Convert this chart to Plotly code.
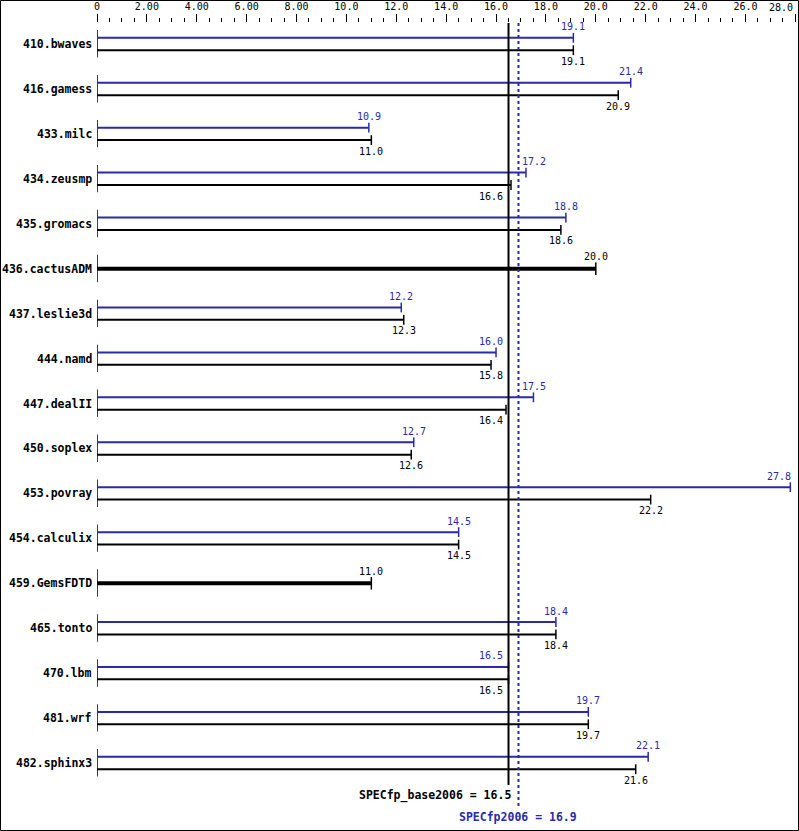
import plotly.graph_objects as go

benchmarks = ["410.bwaves", "416.gamess", "433.milc", "434.zeusmp", "435.gromacs",
              "436.cactusADM", "437.leslie3d", "444.namd", "447.dealII", "450.soplex",
              "453.povray", "454.calculix", "459.GemsFDTD", "465.tonto", "470.lbm",
              "481.wrf", "482.sphinx3"]
peak = [19.1, 21.4, 10.9, 17.2, 18.8, None, 12.2, 16.0, 17.5, 12.7,
        27.8, 14.5, None, 18.4, 16.5, 19.7, 22.1]
base = [19.1, 20.9, 11.0, 16.6, 18.6, 20.0, 12.3, 15.8, 16.4, 12.6,
        22.2, 14.5, 11.0, 18.4, 16.5, 19.7, 21.6]
base_score = 16.5
peak_score = 16.9
tick_vals = [0, 2, 4, 6, 8, 10, 12, 14, 16, 18, 20, 22, 24, 26, 28]
tick_text = ["0", "2.00", "4.00", "6.00", "8.00", "10.0", "12.0", "14.0", "16.0",
             "18.0", "20.0", "22.0", "24.0", "26.0", "28.0"]

BLUE = "#2a2aa8"
BLACK = "#000000"
W, H = 799, 831
L, T = 97, 23
PX_PER_UNIT = 24.94
ROW_PX = 44.94
ROW0_PX = 44.0
OFF = 0.138

n = len(benchmarks)
xmax = (W - L) / PX_PER_UNIT
ytop = (T - ROW0_PX) / ROW_PX
ybot = (H - ROW0_PX) / ROW_PX

# last tick label is drawn as an annotation, right-aligned at its tick
tick_text_disp = list(tick_text)
tick_text_disp[-1] = ""

fig = go.Figure()

# left axis segments per row
ax_x, ax_y = [], []
for i in range(n):
    ax_x += [0, 0, None]
    ax_y += [i - 0.31, i + 0.30, None]
fig.add_trace(go.Scatter(x=ax_x, y=ax_y, mode="lines", line=dict(color=BLACK, width=1.5),
                         hoverinfo="skip", showlegend=False))

ann = []
font_val = dict(family="DejaVu Sans Mono", size=10)
HALF_W = 12 / PX_PER_UNIT
ZONE = (base_score - 4 / PX_PER_UNIT, peak_score + 3 / PX_PER_UNIT)


def value_label(v, y, color, yshift):
    txt = f"{v:.1f}"
    d = dict(y=y, text=txt, showarrow=False, yshift=yshift, yanchor="middle",
             font=dict(color=color, **font_val))
    lo, hi = v - HALF_W, v + HALF_W
    if v > 27:
        d.update(x=v, xanchor="right", xshift=3)
    elif hi > ZONE[0] and lo < ZONE[1]:
        if v >= peak_score:
            d.update(x=peak_score, xanchor="left", xshift=2)
        else:
            d.update(x=base_score, xanchor="right", xshift=-4)
    else:
        d.update(x=v, xanchor="center")
    return d


px_, py_, cx_p, cy_p = [], [], [], []
bx_, by_, cx_b, cy_b = [], [], [], []
tx_, ty_, cx_t, cy_t = [], [], [], []
for i, (p, b) in enumerate(zip(peak, base)):
    if p is None:
        tx_ += [0, b, None]
        ty_ += [i, i, None]
        cx_t.append(b); cy_t.append(i)
        ann.append(value_label(b, i, BLACK, 12))
        continue
    px_ += [0, p, None]; py_ += [i - OFF, i - OFF, None]
    cx_p.append(p); cy_p.append(i - OFF)
    bx_ += [0, b, None]; by_ += [i + OFF, i + OFF, None]
    cx_b.append(b); cy_b.append(i + OFF)
    ann.append(value_label(p, i - OFF, BLUE, 11))
    ann.append(value_label(b, i + OFF, BLACK, -11))

fig.add_trace(go.Scatter(x=px_, y=py_, mode="lines", line=dict(color=BLUE, width=2),
                         hoverinfo="skip", showlegend=False))
fig.add_trace(go.Scatter(x=bx_, y=by_, mode="lines", line=dict(color=BLACK, width=2),
                         hoverinfo="skip", showlegend=False))
fig.add_trace(go.Scatter(x=tx_, y=ty_, mode="lines", line=dict(color=BLACK, width=4),
                         hoverinfo="skip", showlegend=False))
fig.add_trace(go.Scatter(x=cx_p, y=cy_p, mode="markers",
                         marker=dict(symbol="line-ns", size=7, line=dict(color=BLUE, width=1.5)),
                         hoverinfo="skip", showlegend=False))
fig.add_trace(go.Scatter(x=cx_b, y=cy_b, mode="markers",
                         marker=dict(symbol="line-ns", size=7, line=dict(color=BLACK, width=1.5)),
                         hoverinfo="skip", showlegend=False))
fig.add_trace(go.Scatter(x=cx_t, y=cy_t, mode="markers",
                         marker=dict(symbol="line-ns", size=9, line=dict(color=BLACK, width=1.5)),
                         hoverinfo="skip", showlegend=False))

# summary lines
fig.add_trace(go.Scatter(x=[base_score, base_score], y=[ytop, n - 0.51], mode="lines",
                         line=dict(color=BLACK, width=2), hoverinfo="skip", showlegend=False))
fig.add_trace(go.Scatter(x=[peak_score, peak_score], y=[ytop, n], mode="lines",
                         line=dict(color=BLUE, width=2, dash="dot"), hoverinfo="skip", showlegend=False))

# benchmark labels
for i, name in enumerate(benchmarks):
    ann.append(dict(x=0, y=i, text=f"<b>{name}</b>", showarrow=False, xanchor="right",
                    xshift=-3, yanchor="middle",
                    font=dict(family="DejaVu Sans Mono", size=11.5, color=BLACK)))

ann.append(dict(x=base_score, y=n - 0.27, text=f"<b>SPECfp_base2006 = {base_score:.1f}</b>",
                showarrow=False, xanchor="right", xshift=4, yanchor="middle",
                font=dict(family="DejaVu Sans Mono", size=11.5, color=BLACK)))
ann.append(dict(x=peak_score, y=n + 0.2, text=f"<b>SPECfp2006 = {peak_score:.1f}</b>",
                showarrow=False, xanchor="center", yanchor="middle",
                font=dict(family="DejaVu Sans Mono", size=11.5, color=BLUE)))

# last top tick label
ann.append(dict(x=tick_vals[-1], xref="x", y=1, yref="paper", text=tick_text[-1],
                showarrow=False, xanchor="right", xshift=0, yanchor="middle", yshift=16,
                font=dict(family="DejaVu Sans Mono", size=10, color=BLACK)))

# outer frame
pw, ph = W - L, H - T
fig.add_shape(type="rect", xref="paper", yref="paper",
              x0=(0.5 - L) / pw, x1=(W - 0.5 - L) / pw,
              y0=0.5 / ph, y1=(H - 0.5) / ph,
              line=dict(color=BLACK, width=1), fillcolor="rgba(0,0,0,0)", layer="above")

fig.update_layout(
    width=W, height=H,
    margin=dict(l=L, r=0, t=T, b=0, autoexpand=False),
    paper_bgcolor="white", plot_bgcolor="white",
    annotations=ann,
    xaxis=dict(range=[0, xmax], side="top", showgrid=False, zeroline=False, showline=False,
               automargin=False,
               tickmode="array", tickvals=tick_vals, ticktext=tick_text_disp,
               ticks="outside", ticklen=8, tickwidth=1, tickcolor=BLACK,
               tickfont=dict(family="DejaVu Sans Mono", size=10, color=BLACK),
               minor=dict(dtick=0.5, ticks="outside", ticklen=4, tickwidth=1, tickcolor=BLACK,
                          showgrid=False),
               fixedrange=True),
    yaxis=dict(range=[ybot, ytop], visible=False, showgrid=False, zeroline=False,
               automargin=False, fixedrange=True),
)

fig.write_html("out.html", config={"staticPlot": True},
               post_script="document.body.style.margin='0';document.body.style.overflow='hidden';")
